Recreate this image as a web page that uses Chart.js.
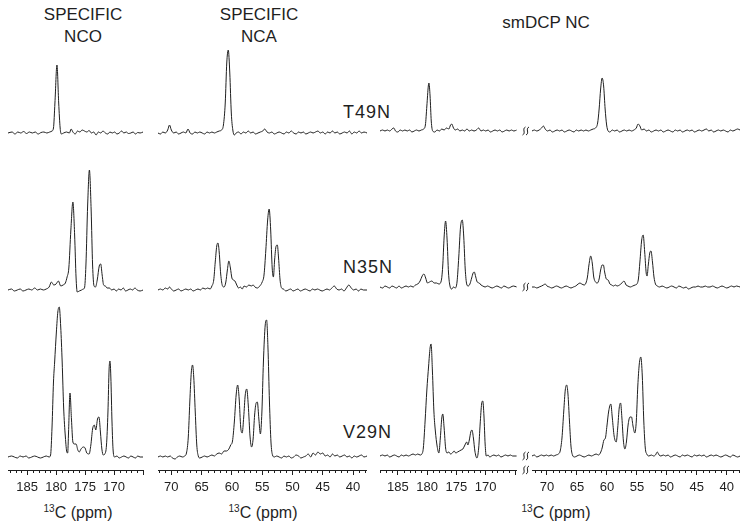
<!DOCTYPE html>
<html>
<head>
<meta charset="utf-8">
<script src="https://cdn.jsdelivr.net/npm/chart.js@4"></script>
<style>
  body { margin: 0; background: #fff; }
  #wrap { position: relative; width: 749px; height: 530px; overflow: hidden; font-family: "Liberation Sans", Arial, Helvetica, sans-serif; color: #1f1f1f; }
  canvas { position: absolute; top: 40px; }
  .txt { position: absolute; text-align: center; font-size: 17px; line-height: 22px; }
  .row { position: absolute; left: 343px; font-size: 18px; line-height: 18px; letter-spacing: 1px; }
  .unit { position: absolute; width: 140px; text-align: center; font-size: 16px; line-height: 20px; top: 503px; }
  .unit sup { font-size: 10px; vertical-align: 6px; line-height: 0; }
</style>
</head>
<body>
<div id="wrap">
  <div class="txt" style="left:23px;width:120px;top:4px">SPECIFIC<br>NCO</div>
  <div class="txt" style="left:199px;width:120px;top:4px">SPECIFIC<br>NCA</div>
  <div class="txt" style="left:486px;width:120px;top:12px">smDCP NC</div>
  <div class="row" style="top:103px">T49N</div>
  <div class="row" style="top:258px">N35N</div>
  <div class="row" style="top:423px">V29N</div>
  <div class="unit" style="left:8px"><sup>13</sup>C (ppm)</div>
  <div class="unit" style="left:193px"><sup>13</sup>C (ppm)</div>
  <div class="unit" style="left:486px"><sup>13</sup>C (ppm)</div>

  <canvas id="nco" width="140" height="460" style="left:8px"></canvas>
  <canvas id="nca" width="209" height="460" style="left:158px"></canvas>
  <canvas id="dcpCo" width="140" height="460" style="left:380px"></canvas>
  <canvas id="dcpCa" width="220" height="460" style="left:520px"></canvas>
</div>

<script>
// tick labels
const coTicks = [185, 180, 175, 170];
const caTicks = [70, 65, 60, 55, 50, 45, 40];

// ---- SPECIFIC NCO  [ppm, intensity] ----
const ncoT49 = [[188.3,0],[187.6,1],[187.1,-1],[186.6,1],[186.1,0],[185.6,1.5],[185.1,-0.5],[184.6,1],[184.1,0],[183.6,1],[183.1,-1],[182.6,0.5],[182.1,1],[181.6,0],[181.1,1],[180.7,2],[180.45,5],[180.2,30],[179.85,68],[179.55,30],[179.3,5],[179.1,-1],[178.7,0],[178.2,1],[177.7,0],[177.4,4],[177.1,1],[176.7,-1],[176.3,2],[175.9,1],[175.5,3],[175.1,2],[174.7,1],[174.3,2.5],[173.9,0],[173.5,1],[173.1,-2],[172.7,1],[172.3,0],[171.9,2],[171.5,0],[171.1,-1],[170.7,1],[170.3,0],[169.9,1],[169.5,-1],[169.1,0],[168.7,2],[168.3,0],[167.9,1],[167.5,-0.5],[167.1,0],[166.7,1],[166.3,-1],[165.9,0.5],[165.5,0],[165,1]];
const ncoN35 = [[188.3,0],[187.7,1],[187.2,-1],[186.7,0],[186.2,1],[185.7,-1],[185.2,0],[184.7,1],[184.2,0],[183.7,2],[183.2,0],[182.7,1],[182.2,0],[181.7,1],[181.2,3],[180.8,8],[180.4,5],[180.0,6],[179.6,9],[179.2,4],[178.8,5],[178.4,7],[178.1,13],[177.8,22],[177.45,60],[177.1,88],[176.8,55],[176.55,12],[176.35,-2],[176.0,-1],[175.6,0],[175.3,1],[175.1,2],[174.85,25],[174.55,85],[174.25,120],[173.95,80],[173.7,25],[173.45,4],[173.2,3],[172.9,10],[172.55,24],[172.3,26],[172.05,15],[171.8,5],[171.5,4],[171.2,2],[170.8,2],[170.4,0],[170.0,1],[169.6,-1],[169.2,1],[168.8,0],[168.4,2],[168.0,-1],[167.6,0],[167.2,1],[166.8,0],[166.4,2],[166.0,0],[165.5,-1],[165,0]];
const ncoV29 = [[188.3,0],[187.7,1],[187.2,0],[186.7,-1],[186.2,1],[185.7,0],[185.2,1],[184.7,-1],[184.2,0],[183.7,1],[183.2,0],[182.7,-1],[182.2,0],[181.7,1],[181.2,0],[180.95,2],[180.7,30],[180.45,75],[180.25,95],[179.95,125],[179.7,145],[179.45,150],[179.2,130],[178.95,95],[178.7,50],[178.4,20],[178.15,5],[178.0,4],[177.85,25],[177.6,64],[177.35,38],[177.1,15],[176.85,13],[176.55,13],[176.25,7],[176.0,5],[175.7,8],[175.3,10],[175.0,9],[174.7,4],[174.3,3],[174.0,12],[173.7,28],[173.4,32],[173.15,27],[172.85,38],[172.6,40],[172.35,25],[172.1,8],[171.85,2],[171.6,3],[171.3,12],[171.05,45],[170.85,88],[170.7,96],[170.55,80],[170.35,35],[170.15,6],[169.9,0],[169.5,1],[169.1,-1],[168.7,0],[168.3,1],[167.9,0],[167.5,-1],[167.1,1],[166.7,0],[166.3,-1],[165.9,1],[165.5,0],[165,0]];

// ---- SPECIFIC NCA ----
const ncaT49 = [[72.2,0],[71.8,-1],[71.4,1],[71.0,0],[70.6,3],[70.3,8],[70.0,3],[69.6,0],[69.2,1],[68.8,-1],[68.4,0],[68.0,1],[67.6,0],[67.25,4],[66.9,0],[66.5,-1],[66.1,1],[65.7,0],[65.3,1],[64.9,0],[64.5,-1],[64.1,1],[63.7,0],[63.3,1],[62.9,0],[62.5,1],[62.1,2],[61.7,3],[61.4,8],[61.1,30],[60.85,70],[60.6,83],[60.35,60],[60.1,20],[59.85,3],[59.6,-2],[59.3,0],[58.9,1],[58.5,-1],[58.1,1],[57.7,0],[57.3,2],[56.9,0],[56.5,1],[56.1,-1],[55.7,0],[55.3,1],[54.9,2],[54.6,4],[54.2,1],[53.8,0],[53.4,1],[53.0,-1],[52.6,0],[52.2,1],[51.8,0],[51.4,-1],[51.0,1],[50.6,0],[50.2,2],[49.8,0],[49.4,-1],[49.0,1],[48.6,0],[48.2,1],[47.8,-1],[47.4,0],[47.0,1],[46.6,0],[46.2,1],[45.8,2],[45.4,0],[45.0,1],[44.6,-1],[44.2,1],[43.8,0],[43.4,2],[43.0,0],[42.6,1],[42.2,-1],[41.8,0],[41.4,1],[41.0,0],[40.6,2],[40.2,-1],[39.8,1],[39.4,0],[39.0,2],[38.6,0],[38.2,1],[37.7,0]];
const ncaN35 = [[72.2,0],[71.8,1],[71.4,0],[71.0,2],[70.6,1],[70.3,3],[70.0,1],[69.6,-1],[69.2,0],[68.8,1],[68.4,-1],[68.0,0],[67.6,1],[67.2,0],[66.8,1],[66.4,-1],[66.0,0],[65.6,1],[65.2,0],[64.8,2],[64.4,1],[64.0,2],[63.6,1],[63.3,4],[63.0,10],[62.75,28],[62.5,44],[62.3,47],[62.1,38],[61.85,16],[61.55,4],[61.3,3],[61.0,8],[60.75,20],[60.5,29],[60.25,22],[60.0,12],[59.75,10],[59.5,9],[59.2,5],[58.9,2],[58.6,3],[58.3,1],[58.0,4],[57.6,3],[57.2,5],[56.8,4],[56.5,5],[56.2,3],[55.8,2],[55.4,4],[55.0,8],[54.7,15],[54.4,40],[54.1,70],[53.85,81],[53.6,60],[53.35,22],[53.15,13],[52.95,30],[52.7,44],[52.5,45],[52.3,32],[52.05,10],[51.8,2],[51.5,1],[51.1,-1],[50.7,0],[50.3,1],[49.9,-1],[49.5,0],[49.1,1],[48.7,-1],[48.3,0],[47.9,1],[47.5,0],[47.1,-1],[46.7,1],[46.3,0],[45.9,1],[45.5,0],[45.1,-1],[44.7,0],[44.3,1],[43.9,0],[43.5,2],[43.1,4],[42.7,1],[42.3,0],[41.9,1],[41.5,-1],[41.1,2],[40.7,5],[40.3,2],[39.9,0],[39.5,1],[39.1,-1],[38.7,1],[38.3,0],[37.7,0]];
const ncaV29 = [[72.2,0],[71.8,1],[71.4,0],[71.0,1],[70.6,0],[70.2,1],[69.8,-1],[69.4,-2],[69.0,0],[68.6,1],[68.2,0],[67.8,1],[67.5,4],[67.2,20],[66.95,55],[66.7,85],[66.5,92],[66.3,80],[66.05,45],[65.8,12],[65.55,1],[65.3,-1],[64.9,0],[64.5,1],[64.1,0],[63.7,1],[63.3,2],[62.9,1],[62.5,3],[62.1,4],[61.7,3],[61.3,6],[60.9,6],[60.5,8],[60.2,12],[59.9,16],[59.6,35],[59.3,62],[59.05,72],[58.8,58],[58.55,30],[58.3,24],[58.05,40],[57.8,62],[57.55,68],[57.3,52],[57.0,20],[56.75,10],[56.5,18],[56.25,42],[56.0,54],[55.8,55],[55.55,38],[55.3,23],[55.05,45],[54.8,95],[54.5,132],[54.27,137],[54.05,110],[53.8,55],[53.55,15],[53.3,2],[53.0,0],[52.6,1],[52.2,0],[51.8,-1],[51.4,1],[51.0,0],[50.6,1],[50.2,-1],[49.8,0],[49.4,2],[49.0,1],[48.6,-1],[48.2,0],[47.8,1],[47.4,3],[47.0,0],[46.6,4],[46.2,2],[45.8,5],[45.4,3],[45.0,4],[44.6,1],[44.2,2],[43.8,0],[43.4,3],[43.0,1],[42.6,2],[42.2,0],[41.8,1],[41.4,2],[41.0,0],[40.6,1],[40.2,-1],[39.8,1],[39.4,0],[39.0,1],[38.6,2],[38.2,0],[37.7,1]];

// ---- smDCP NC, carbonyl part ----
const dcpCoT49 = [[188.05,0],[187.6,1],[187.2,0],[186.8,1],[186.4,0],[186.0,2],[185.7,3],[185.4,0],[185.0,-1],[184.6,1],[184.2,0],[183.8,1],[183.4,0],[183.0,1],[182.6,-1],[182.2,0],[181.8,1],[181.4,0],[181.0,1],[180.6,2],[180.3,6],[180.05,25],[179.8,45],[179.7,48],[179.5,35],[179.3,10],[179.05,0],[178.7,-1],[178.3,1],[177.9,0],[177.5,2],[177.1,1],[176.7,3],[176.3,2],[176.0,6],[175.8,7],[175.5,3],[175.2,1],[174.8,2],[174.4,0],[174.0,1],[173.6,0],[173.2,2],[172.8,0],[172.4,1],[172.0,0],[171.6,1],[171.2,3],[170.8,0],[170.4,1],[170.0,0],[169.6,1],[169.2,-1],[168.8,0],[168.4,1],[168.0,0],[167.6,1],[167.2,-1],[166.8,0],[166.4,1],[166.0,0],[165.6,1],[165.2,0],[164.7,1]];
const dcpCoN35 = [[188.05,0],[187.6,-1],[187.2,1],[186.8,0],[186.4,-1],[186.0,1],[185.6,0],[185.2,-1],[184.8,1],[184.4,-1],[184.0,0],[183.6,1],[183.2,0],[182.8,1],[182.4,0],[182.0,2],[181.6,3],[181.2,6],[180.85,11],[180.55,13],[180.25,9],[179.95,4],[179.6,5],[179.2,6],[178.8,4],[178.4,4],[178.0,3],[177.6,6],[177.35,20],[177.1,50],[176.85,66],[176.6,48],[176.35,14],[176.1,1],[175.8,-2],[175.5,0],[175.2,-1],[174.9,5],[174.6,30],[174.3,60],[174.0,67],[173.75,50],[173.5,18],[173.25,3],[173.0,1],[172.7,3],[172.4,9],[172.15,14],[171.95,15],[171.7,10],[171.45,5],[171.1,4],[170.8,2],[170.5,1],[170.1,0],[169.7,1],[169.3,0],[168.9,-1],[168.5,0],[168.1,1],[167.7,0],[167.3,-1],[166.9,1],[166.5,0],[166.1,-1],[165.7,0],[165.3,1],[164.7,0]];
const dcpCoV29 = [[188.05,0],[187.6,1],[187.2,0],[186.8,1],[186.4,-1],[186.0,0],[185.6,1],[185.2,0],[184.8,-1],[184.4,1],[184.0,0],[183.6,1],[183.2,0],[182.8,1],[182.4,2],[182.0,1],[181.6,2],[181.2,1],[180.9,2],[180.65,8],[180.35,35],[180.05,66],[179.75,90],[179.5,108],[179.33,112],[179.1,85],[178.85,45],[178.6,25],[178.3,10],[178.0,3],[177.75,18],[177.5,38],[177.33,42],[177.1,28],[176.85,8],[176.6,3],[176.3,4],[176.0,2],[175.7,3],[175.4,5],[175.1,3],[174.8,4],[174.5,5],[174.2,6],[173.9,7],[173.55,11],[173.25,14],[173.05,11],[172.8,16],[172.55,24],[172.35,26],[172.1,18],[171.85,5],[171.5,-2],[171.2,8],[170.95,32],[170.7,52],[170.5,55],[170.3,40],[170.1,12],[169.9,0],[169.6,1],[169.3,-1],[169.0,0],[168.6,1],[168.2,0],[167.8,1],[167.4,-1],[167.0,0],[166.6,1],[166.2,0],[165.8,1],[165.4,0],[164.7,0]];

// ---- smDCP NC, aliphatic part ----
const dcpCaT49 = [[72.5,0],[72.1,1],[71.7,0],[71.3,1],[70.9,3],[70.6,5],[70.3,2],[69.9,0],[69.5,1],[69.1,-1],[68.7,0],[68.3,1],[67.9,0],[67.5,1],[67.1,-1],[66.7,0],[66.3,1],[65.9,0],[65.5,-1],[65.1,1],[64.7,0],[64.3,1],[63.9,0],[63.5,1],[63.1,0],[62.7,1],[62.3,2],[61.9,3],[61.55,8],[61.3,22],[61.05,42],[60.8,53],[60.55,45],[60.3,22],[60.05,6],[59.8,0],[59.5,-1],[59.1,1],[58.7,0],[58.3,1],[57.9,-1],[57.5,0],[57.1,1],[56.7,0],[56.3,1],[55.9,0],[55.5,1],[55.1,3],[54.8,7],[54.5,5],[54.2,1],[53.8,2],[53.4,0],[53.0,1],[52.6,-1],[52.2,0],[51.8,1],[51.4,0],[51.0,1],[50.6,-1],[50.2,0],[49.8,1],[49.4,0],[49.0,-1],[48.6,1],[48.2,0],[47.8,1],[47.4,-1],[47.0,0],[46.6,1],[46.2,0],[45.8,1],[45.4,-1],[45.0,0],[44.6,1],[44.2,0],[43.8,1],[43.4,2],[43.0,0],[42.6,1],[42.2,-1],[41.8,0],[41.4,1],[41.0,0],[40.6,1],[40.2,0],[39.8,-1],[39.4,1],[39.0,0],[38.6,1],[38.2,2],[37.8,1]];
const dcpCaN35 = [[72.5,0],[72.1,0],[71.7,-1],[71.3,0],[70.9,1],[70.6,2],[70.3,3],[70.0,1],[69.6,0],[69.2,-1],[68.8,0],[68.4,1],[68.0,0],[67.6,-1],[67.2,0],[66.8,1],[66.4,0],[66.0,-1],[65.6,0],[65.2,1],[64.8,3],[64.5,4],[64.2,3],[63.8,2],[63.5,4],[63.25,10],[63.0,22],[62.7,31],[62.45,24],[62.2,10],[61.9,5],[61.6,4],[61.3,8],[61.05,17],[60.8,22],[60.6,22],[60.35,14],[60.1,8],[59.8,7],[59.5,3],[59.2,2],[58.9,1],[58.6,2],[58.3,1],[57.9,2],[57.5,4],[57.15,6],[56.8,2],[56.5,1],[56.1,0],[55.7,1],[55.3,2],[55.0,3],[54.75,8],[54.5,25],[54.2,47],[53.95,52],[53.7,35],[53.45,14],[53.3,11],[53.1,22],[52.85,34],[52.65,36],[52.4,25],[52.15,10],[51.9,3],[51.6,1],[51.2,0],[50.8,1],[50.4,0],[50.0,-1],[49.6,0],[49.2,1],[48.8,0],[48.4,-1],[48.0,1],[47.6,0],[47.2,-1],[46.8,0],[46.4,-2],[46.0,-1],[45.6,0],[45.2,0],[44.8,1],[44.4,0],[44.0,0],[43.6,1],[43.2,0],[42.8,0],[42.4,1],[42.0,0],[41.6,-1],[41.2,0],[40.8,1],[40.4,0],[40.0,-1],[39.6,0],[39.2,1],[38.8,0],[38.4,1],[37.8,0]];
const dcpCaV29 = [[72.5,0],[72.1,1],[71.7,-1],[71.3,0],[70.9,1],[70.5,0],[70.1,1],[69.7,0],[69.3,1],[68.9,0],[68.5,1],[68.1,2],[67.8,5],[67.5,18],[67.2,45],[66.95,66],[66.72,71],[66.5,62],[66.25,35],[66.0,10],[65.75,1],[65.4,-1],[65.0,0],[64.6,1],[64.2,0],[63.8,-1],[63.4,0],[63.0,1],[62.6,0],[62.2,1],[61.8,2],[61.4,1],[61.1,3],[60.8,8],[60.5,16],[60.25,18],[60.0,30],[59.7,45],[59.35,52],[59.1,38],[58.8,20],[58.45,14],[58.2,28],[57.95,48],[57.72,53],[57.5,38],[57.25,15],[57.0,7],[56.75,14],[56.45,32],[56.15,39],[55.9,39],[55.65,30],[55.35,23],[55.1,35],[54.85,70],[54.6,92],[54.35,99],[54.1,80],[53.85,35],[53.6,8],[53.35,2],[53.0,0],[52.6,1],[52.2,0],[51.9,1],[51.6,4],[51.3,1],[51.0,0],[50.6,1],[50.2,0],[49.8,1],[49.4,-1],[49.0,0],[48.6,1],[48.2,0],[47.8,-1],[47.4,1],[47.0,0],[46.6,1],[46.2,0],[45.8,-1],[45.4,1],[45.0,0],[44.6,1],[44.2,0],[43.8,1],[43.4,-1],[43.0,0],[42.6,1],[42.2,0],[41.8,1],[41.4,0],[41.0,-1],[40.6,0],[40.2,1],[39.8,0],[39.4,-1],[39.0,1],[38.6,0],[38.2,-1],[37.8,0]];

// vertical stacking of the three samples (T49N, N35N, V29N)
const specificOffsets = [337, 180, 13];
const dcpOffsets = [339, 183, 14];

const FONT = '"Liberation Sans", Arial, Helvetica, sans-serif';
const INK = "#1f1f1f";

// small 1 ppm ticks between the labelled ones
const minorTicks = {
  id: "minorTicks",
  afterDraw(chart) {
    const sc = chart.scales.x;
    const ctx = chart.ctx;
    ctx.save();
    ctx.strokeStyle = INK;
    ctx.lineWidth = 1;
    for (let v = Math.ceil(sc.min); v <= Math.floor(sc.max); v++) {
      if (v % 5 === 0) continue;
      const px = Math.round(sc.getPixelForValue(v)) + 0.5;
      ctx.beginPath();
      ctx.moveTo(px, sc.top);
      ctx.lineTo(px, sc.top + 3);
      ctx.stroke();
    }
    ctx.restore();
  },
};

// double "s" break marks in front of the aliphatic panel
const axisBreak = {
  id: "axisBreak",
  afterDraw(chart, args, opts) {
    if (!opts || !opts.offsets) return;
    const ctx = chart.ctx;
    const ys = opts.offsets.map((o) => chart.scales.y.getPixelForValue(o));
    ys.push(chart.scales.x.top);
    const x0 = chart.chartArea.left - 8;
    ctx.save();
    ctx.strokeStyle = INK;
    ctx.lineWidth = 1;
    ys.forEach((y) => {
      [x0, x0 + 3.5].forEach((x) => {
        ctx.beginPath();
        ctx.moveTo(x - 1.5, y + 4);
        ctx.bezierCurveTo(x + 2.5, y + 2, x - 2.5, y - 2, x + 1.5, y - 4);
        ctx.stroke();
      });
    });
    ctx.restore();
  },
};

function makePanel(id, xMin, xMax, spectra, offsets, tickLabels, padLeft, withBreak) {
  const datasets = spectra.map((s, i) => ({
    data: s.map(([x, v]) => ({ x: x, y: v + offsets[i] })),
    borderColor: INK,
    borderWidth: 1,
    pointRadius: 0,
    fill: false,
    cubicInterpolationMode: "monotone",
  }));

  return new Chart(document.getElementById(id), {
    type: "line",
    data: { datasets },
    plugins: [minorTicks, axisBreak],
    options: {
      responsive: false,
      animation: false,
      devicePixelRatio: 1,
      layout: { padding: { left: padLeft, right: 0, top: 0, bottom: 0 } },
      plugins: {
        legend: { display: false },
        tooltip: { enabled: false },
        axisBreak: withBreak ? { offsets } : {},
      },
      scales: {
        x: {
          type: "linear",
          reverse: true,
          min: xMin,
          max: xMax,
          position: "bottom",
          border: { display: true, color: INK, width: 1 },
          grid: { drawOnChartArea: false, drawTicks: true, tickLength: 5, color: INK },
          ticks: {
            stepSize: 5,
            includeBounds: false,
            autoSkip: false,
            maxRotation: 0,
            padding: 5,
            color: INK,
            font: { family: FONT, size: 13 },
            callback: (v) => (tickLabels.includes(v) ? String(v) : ""),
          },
          afterFit: (scale) => {
            scale.height = 30;
          },
        },
        y: { display: false, min: 0, max: 430 },
      },
    },
  });
}

makePanel("nco", 165, 188.3, [ncoT49, ncoN35, ncoV29], specificOffsets, coTicks, 0, false);
makePanel("nca", 37.7, 72.2, [ncaT49, ncaN35, ncaV29], specificOffsets, caTicks, 0, false);
makePanel("dcpCo", 164.7, 188.05, [dcpCoT49, dcpCoN35, dcpCoV29], dcpOffsets, coTicks, 0, false);
makePanel("dcpCa", 37.8, 72.5, [dcpCaT49, dcpCaN35, dcpCaV29], dcpOffsets, caTicks, 12, true);
</script>
</body>
</html>
